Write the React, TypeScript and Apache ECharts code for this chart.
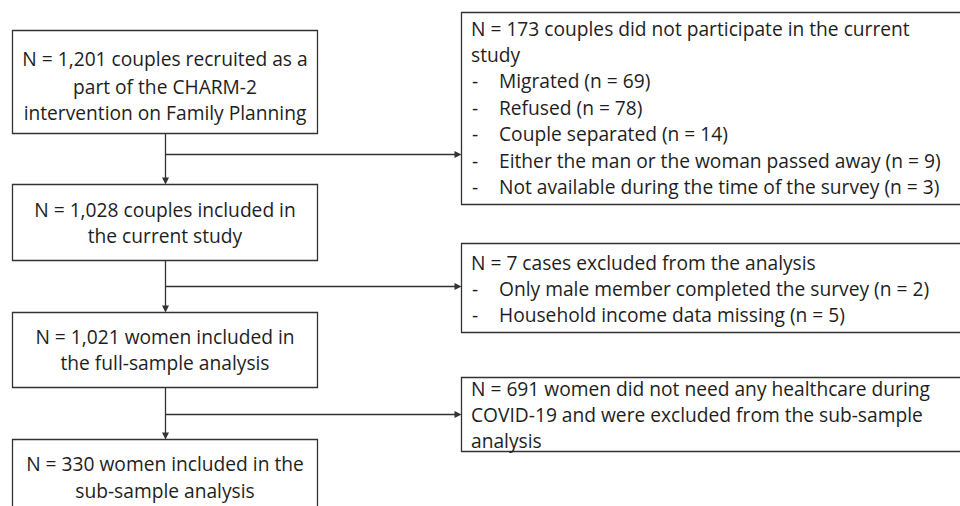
import React, { useEffect, useRef } from "react";
import * as echarts from "echarts";

// ---- content ----
const mainBoxes: string[][] = [
  ["N = 1,201 couples recruited as a", "part of the CHARM-2", "intervention on Family Planning"],
  ["N = 1,028 couples included in", "the current study"],
  ["N = 1,021 women included in", "the full-sample analysis"],
  ["N = 330 women included in the", "sub-sample analysis"],
];
const sideHeadlines: string[][] = [
  ["N = 173 couples did not participate in the current", "study"],
  ["N = 7 cases excluded from the analysis"],
  ["N = 691 women did not need any healthcare during", "COVID-19 and were excluded from the sub-sample", "analysis"],
];
const sideBullets: string[][] = [
  [
    "Migrated (n = 69)",
    "Refused (n = 78)",
    "Couple separated (n = 14)",
    "Either the man or the woman passed away (n = 9)",
    "Not available during the time of the survey (n = 3)",
  ],
  ["Only male member completed the survey (n = 2)", "Household income data missing (n = 5)"],
  [],
];

// ---- layout (pixels) ----
const LEFT_X0 = 12.5;
const LEFT_X1 = 317.5;
const TRUNK_X = 165.5;
const mainTop = [30.5, 184.5, 312.5, 439.5];
const mainBottom = [133.5, 260.5, 387.5, 560];
const mainLineY = [[58, 86, 112], [209, 235], [336, 362], [463, 490]];
const SIDE_X0 = 461.5;
const sideTop = [12.5, 243.5, 377.5];
const sideBottom = [204.5, 332.5, 451.5];
const sideFirstY = [28, 262, 388];
const branchY = [154.5, 286.5, 414.5];
const LINE_H = 26.4;

const FONT = "19.2px 'Open Sans', sans-serif";
const TEXT_COLOR = "#1e1e1e";
const STROKE = "#333333";

export default function App() {
  const ref = useRef<HTMLDivElement>(null);
  useEffect(() => {
    if (!ref.current) return;
    const chart = echarts.init(ref.current, null, { renderer: "svg" });
    const els: any[] = [];
    const txt = (text: string, x: number, y: number, align: string) => ({
      type: "text",
      silent: true,
      style: {
        text,
        x,
        y,
        font: FONT,
        fill: TEXT_COLOR,
        align,
        verticalAlign: "middle",
        textAlign: align,
        textVerticalAlign: "middle",
      },
    });
    mainBoxes.forEach((lines, i) => {
      els.push({
        type: "rect",
        silent: true,
        shape: { x: LEFT_X0, y: mainTop[i], width: LEFT_X1 - LEFT_X0, height: mainBottom[i] - mainTop[i] },
        style: { fill: "#ffffff", stroke: STROKE, lineWidth: 1.3 },
      });
      lines.forEach((l, j) => {
        els.push(txt(l, (LEFT_X0 + LEFT_X1) / 2, mainLineY[i][j], "center"));
      });
    });
    for (let i = 0; i < mainBoxes.length - 1; i++) {
      const y0 = mainBottom[i];
      const y1 = mainTop[i + 1];
      els.push({
        type: "line",
        silent: true,
        shape: { x1: TRUNK_X, y1: y0, x2: TRUNK_X, y2: y1 - 5 },
        style: { stroke: STROKE, lineWidth: 1.3 },
      });
      els.push({
        type: "polygon",
        silent: true,
        shape: { points: [[TRUNK_X - 3.5, y1 - 7], [TRUNK_X + 3.5, y1 - 7], [TRUNK_X, y1]] },
        style: { fill: STROKE },
      });
    }
    sideHeadlines.forEach((head, i) => {
      els.push({
        type: "rect",
        silent: true,
        shape: { x: SIDE_X0, y: sideTop[i], width: 600, height: sideBottom[i] - sideTop[i] },
        style: { fill: "#ffffff", stroke: STROKE, lineWidth: 1.3 },
      });
      let y = sideFirstY[i];
      head.forEach((l) => {
        els.push(txt(l, 471, y, "left"));
        y += LINE_H;
      });
      sideBullets[i].forEach((b) => {
        els.push(txt("-", 472, y, "left"));
        els.push(txt(b, 499, y, "left"));
        y += LINE_H;
      });
      els.push({
        type: "line",
        silent: true,
        shape: { x1: TRUNK_X, y1: branchY[i], x2: SIDE_X0 - 5, y2: branchY[i] },
        style: { stroke: STROKE, lineWidth: 1.3 },
      });
      els.push({
        type: "polygon",
        silent: true,
        shape: { points: [[SIDE_X0 - 7, branchY[i] - 3.5], [SIDE_X0 - 7, branchY[i] + 3.5], [SIDE_X0, branchY[i]]] },
        style: { fill: STROKE },
      });
    });

    chart.setOption({
      animation: false,
      backgroundColor: "#ffffff",
      graphic: { elements: els },
    });
    return () => chart.dispose();
  }, []);
  return (
    <div
      ref={ref}
      style={{ position: "fixed", left: 0, top: 0, width: 960, height: 506, background: "#fff" }}
    />
  );
}
